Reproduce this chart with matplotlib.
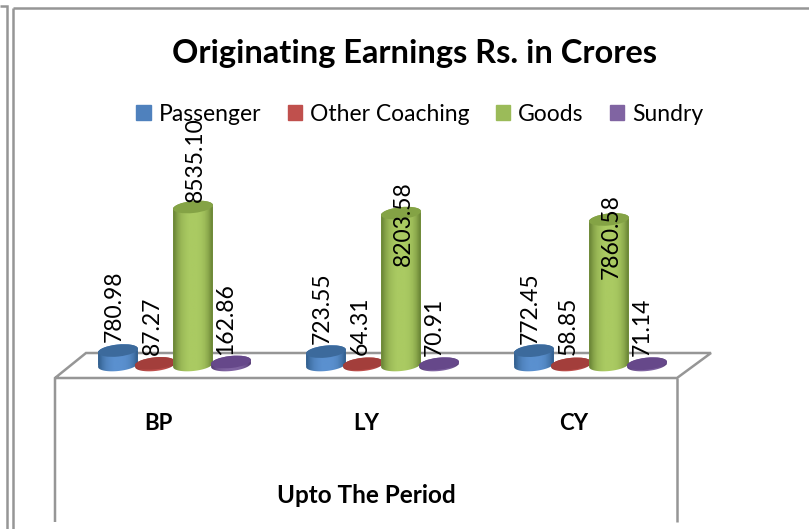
import numpy as np
import matplotlib
matplotlib.use('Agg')
import matplotlib.pyplot as plt
from matplotlib.lines import Line2D
from matplotlib.patches import Ellipse, Rectangle
from matplotlib.path import Path
from matplotlib.transforms import IdentityTransform

plt.rcParams['font.family'] = ['Lato', 'DejaVu Sans']

# data
periods = ['BP', 'LY', 'CY']
series_names = ['Passenger', 'Other Coaching', 'Goods', 'Sundry']
passenger = [780.98, 723.55, 772.45]
other_coaching = [87.27, 64.31, 58.85]
goods = [8535.10, 8203.58, 7860.58]
sundry = [162.86, 70.91, 71.14]
series = [passenger, other_coaching, goods, sundry]
value_text = [['780.98', '723.55', '772.45'],
              ['87.27', '64.31', '58.85'],
              ['8535.10', '8203.58', '7860.58'],
              ['162.86', '70.91', '71.14']]

# styling
W, H = 809, 529
LEG = ['#4f81bd', '#c0504d', '#9bbb59', '#8064a2']
TOP = ['#3c6a9c', '#a33e3b', '#84a345', '#66488a']
EDGE = ['#33608f', '#8f3431', '#6b8636', '#553c74']
MID = ['#5a90cf', '#c0504d', '#aaca62', '#8064a2']
GRID = '#969696'
offset_px = [-40, -3, 35, 73]      # series offset from group centre
label_dx = [-4, -3, 2, -5]         # label shift from bar centre
label_dy = [[-44, -43, -43],       # label centre above bar top
            [-38, -38, -38],
            [-47, 10, 17],
            [-43, -37, -37]]
PX_PER_UNIT = 158 / 8535.10
A, B, TILT = 20, 6.0, np.radians(6)

fig = plt.figure(figsize=(W / 100, H / 100), dpi=100)
left, right, floor_front, top_px, base_px = 55, 677, 378, 100, 365
ax = fig.add_axes([left / W, 1 - floor_front / H, (right - left) / W, (floor_front - top_px) / H])
xlim = ((left - 158) / 208, (right - 158) / 208)
ylim = (-(floor_front - base_px) / PX_PER_UNIT, (base_px - top_px) / PX_PER_UNIT)
ax.set_xlim(xlim)
ax.set_ylim(ylim)
for s in ax.spines.values():
    s.set_visible(False)
ax.patch.set_visible(False)
ax.set_yticks([])
ax.set_xticks(range(3))
ax.set_xticklabels(periods, fontsize=16, fontweight='bold')
ax.tick_params(axis='x', length=0, pad=25)
ax.set_xlabel('Upto The Period', fontsize=17.5, fontweight='bold', labelpad=36)

def px_line(xs, ys, lw=1.8):
    fig.add_artist(Line2D(np.array(xs) / W, 1 - np.array(ys) / H, color=GRID, lw=lw, zorder=-1,
                          solid_capstyle='butt', solid_joinstyle='miter'))

# outer frames and floor
px_line([0, 7, 7], [6, 6, 529])
px_line([13, 13], [529, 8])
px_line([13, 809], [8, 8])
px_line([55, 677, 711, 86, 55, 55], [378, 378, 353, 353, 378, 522])
px_line([677, 677], [378, 522])

def hull(cx, cy0, cy1):
    # outline of a tilted cylinder, display coordinates
    t0 = np.linspace(np.pi, 2 * np.pi, 40)
    t1 = np.linspace(0, np.pi, 40)
    def pts(t, cy):
        ex, ey = A * np.cos(t), B * np.sin(t)
        return np.c_[cx + ex * np.cos(TILT) - ey * np.sin(TILT),
                     cy + ex * np.sin(TILT) + ey * np.cos(TILT)]
    return Path(np.r_[pts(t0, cy0), pts(t1, cy1)])

ident = IdentityTransform()
bar_w = 40 / 208
profile = np.array([0.0, 0.45, 0.75, 0.9, 1.0, 1.0, 1.0, 0.95, 0.8, 0.5, 0.0])
for i, vals in enumerate(series):
    xs = np.arange(3) + offset_px[i] / 208
    bars = ax.bar(xs, vals, width=bar_w, color=LEG[i], zorder=3 + i, clip_on=True)
    c0 = np.array(matplotlib.colors.to_rgb(EDGE[i]))
    c1 = np.array(matplotlib.colors.to_rgb(MID[i]))
    grad = np.array([c0 + (c1 - c0) * p for p in profile])[None, :, :]
    for g, v in enumerate(vals):
        cx, cy1 = ax.transData.transform((xs[g], v))
        _, cy0 = ax.transData.transform((xs[g], 0))
        path = hull(cx, cy0, cy1)
        bars[g].set_clip_path(path, ident)
        im = ax.imshow(grad, extent=(xs[g] - bar_w * 0.52, xs[g] + bar_w * 0.52,
                                     -10 / PX_PER_UNIT, v + 10 / PX_PER_UNIT),
                       aspect='auto', interpolation='bilinear', zorder=3 + i)
        im.set_clip_path(path, ident)
        ax.add_artist(Ellipse((cx, cy1), 2 * A, 2 * B, angle=np.degrees(TILT), transform=ident,
                              facecolor=TOP[i], edgecolor='none', zorder=3 + i))
        ax.annotate(value_text[i][g], (xs[g], v),
                    xytext=(label_dx[i], -label_dy[i][g]), textcoords='offset pixels',
                    rotation=90, ha='center', va='center', fontsize=16.5, color='black',
                    zorder=10, annotation_clip=False)
ax.set_xlim(xlim)
ax.set_ylim(ylim)

fig.text(415 / W, 1 - 54 / H, 'Originating Earnings Rs. in Crores', fontsize=23.5, fontweight='bold',
         ha='center', va='center')

handles = [Rectangle((0, 0), 1, 1, color=c) for c in LEG]
fig.legend(handles, series_names, loc='center', bbox_to_anchor=(420 / W, 1 - 114 / H), ncol=4,
           frameon=False, fontsize=16.5, handlelength=0.62, handleheight=0.62,
           handletextpad=0.35, columnspacing=1.155, borderpad=0)

fig.savefig('out.png', dpi=100)
